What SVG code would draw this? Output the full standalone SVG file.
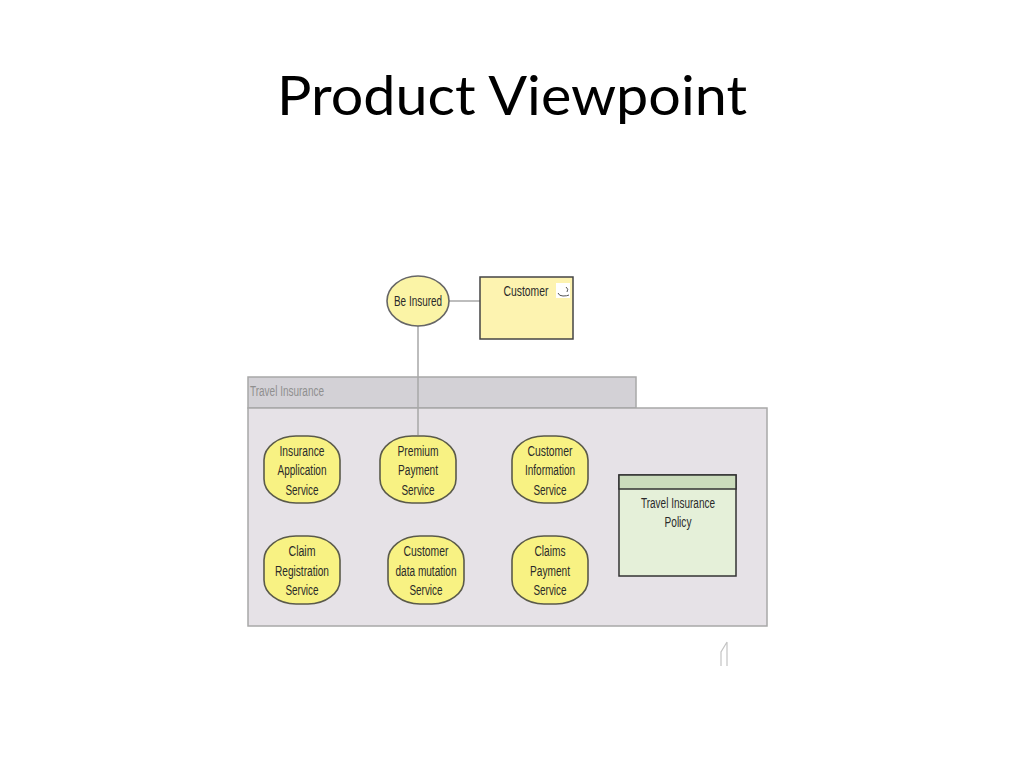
<svg xmlns="http://www.w3.org/2000/svg" width="1024" height="768" viewBox="0 0 1024 768">
<style>
text{font-family:"Liberation Sans",Arial,sans-serif;font-size:14px;fill:#2a2a2a;text-anchor:middle}
.svc{fill:#f8f283;stroke:#5a5a4a;stroke-width:1.6}
.conn{fill:none;stroke:#a8a8a8;stroke-width:1.5}
</style>
<rect width="1024" height="768" fill="#fff"/>
<text id="title" x="512" y="115" textLength="470" lengthAdjust="spacingAndGlyphs" style="font-family:Lato,'Open Sans',sans-serif;font-size:54px;fill:#000">Product Viewpoint</text>
<g id="travel-insurance">
<rect x="248" y="377" width="388" height="31" fill="#d3d1d6" stroke="#a8a8a8" stroke-width="1.5"/>
<rect x="248" y="408" width="519" height="218" fill="#e6e2e7" stroke="#a8a8a8" stroke-width="1.5"/>
<text x="287" y="396" textLength="74" lengthAdjust="spacingAndGlyphs" style="fill:#8f8f8f">Travel Insurance</text>
</g>
<g id="connectors">
<path class="conn" d="M449 301H480M418 326V435"/>
</g>
<g id="be-insured">
<ellipse cx="418" cy="301" rx="31" ry="25" fill="#fbf4a6" stroke="#666" stroke-width="1.6"/>
<text x="418" y="306" textLength="48" lengthAdjust="spacingAndGlyphs">Be Insured</text>
</g>
<g id="customer">
<rect x="480" y="277" width="93" height="62" fill="#fdf3b0" stroke="#444" stroke-width="1.5"/>
<text x="526" y="296" textLength="45" lengthAdjust="spacingAndGlyphs">Customer</text>
<rect x="556" y="283" width="14" height="15" fill="#fff"/>
<path d="M558 293q1 3 5 3t6-1M566 287q3 2 1 5" fill="none" stroke="#555" stroke-width="1"/>
</g>
<g id="s1"><rect class="svc" x="264" y="436" width="76" height="67" rx="32" ry="24"/>
<text x="302" y="456" textLength="45" lengthAdjust="spacingAndGlyphs">Insurance</text><text x="302" y="475" textLength="49" lengthAdjust="spacingAndGlyphs">Application</text><text x="302" y="495" textLength="33" lengthAdjust="spacingAndGlyphs">Service</text></g>
<g id="s2"><rect class="svc" x="380" y="436" width="76" height="67" rx="32" ry="24"/>
<text x="418" y="456" textLength="41" lengthAdjust="spacingAndGlyphs">Premium</text><text x="418" y="475" textLength="40" lengthAdjust="spacingAndGlyphs">Payment</text><text x="418" y="495" textLength="33" lengthAdjust="spacingAndGlyphs">Service</text></g>
<g id="s3"><rect class="svc" x="512" y="436" width="76" height="67" rx="32" ry="24"/>
<text x="550" y="456" textLength="45" lengthAdjust="spacingAndGlyphs">Customer</text><text x="550" y="475" textLength="50" lengthAdjust="spacingAndGlyphs">Information</text><text x="550" y="495" textLength="33" lengthAdjust="spacingAndGlyphs">Service</text></g>
<g id="s4"><rect class="svc" x="264" y="536" width="76" height="68" rx="32" ry="24"/>
<text x="302" y="556" textLength="27" lengthAdjust="spacingAndGlyphs">Claim</text><text x="302" y="576" textLength="54" lengthAdjust="spacingAndGlyphs">Registration</text><text x="302" y="595" textLength="33" lengthAdjust="spacingAndGlyphs">Service</text></g>
<g id="s5"><rect class="svc" x="388" y="536" width="76" height="68" rx="32" ry="24"/>
<text x="426" y="556" textLength="45" lengthAdjust="spacingAndGlyphs">Customer</text><text x="426" y="576" textLength="61" lengthAdjust="spacingAndGlyphs">data mutation</text><text x="426" y="595" textLength="33" lengthAdjust="spacingAndGlyphs">Service</text></g>
<g id="s6"><rect class="svc" x="512" y="536" width="76" height="68" rx="32" ry="24"/>
<text x="550" y="556" textLength="31" lengthAdjust="spacingAndGlyphs">Claims</text><text x="550" y="576" textLength="40" lengthAdjust="spacingAndGlyphs">Payment</text><text x="550" y="595" textLength="33" lengthAdjust="spacingAndGlyphs">Service</text></g>
<g id="policy">
<rect x="619" y="475" width="117" height="101" fill="#e5f0d9" stroke="#333" stroke-width="1.5"/>
<rect x="619" y="475" width="117" height="14" fill="#cbdcbc" stroke="#333" stroke-width="1.5"/>
<text x="678" y="508" textLength="74" lengthAdjust="spacingAndGlyphs">Travel Insurance</text>
<text x="678" y="527" textLength="27" lengthAdjust="spacingAndGlyphs">Policy</text>
</g>
<path id="mark" d="M721 666V652L727 642M727 642V666" fill="none" stroke="#c4c4c4" stroke-width="1.2"/>
</svg>
